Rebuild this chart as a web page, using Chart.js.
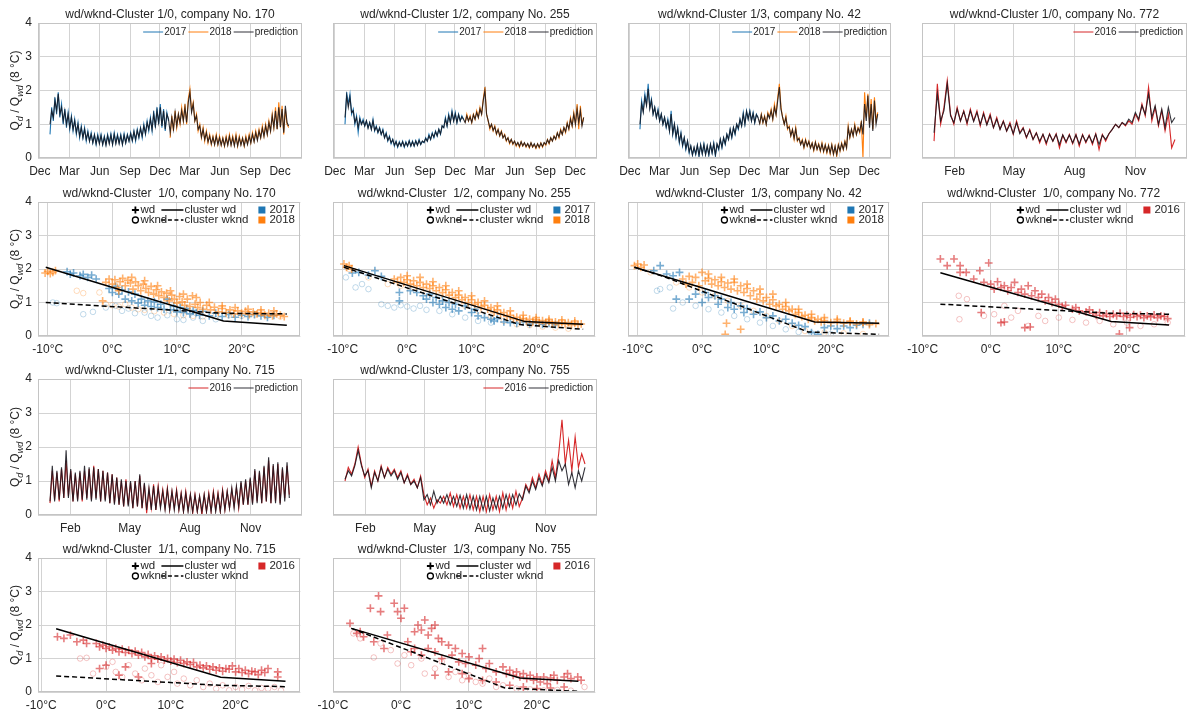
<!DOCTYPE html>
<html>
<head>
<meta charset="utf-8">
<script src="https://cdn.jsdelivr.net/npm/chart.js@4.4.1/dist/chart.umd.min.js"></script>
<style>
  body { margin: 0; background: #fff; width: 1190px; height: 713px; overflow: hidden; position: relative; }
  canvas { position: absolute; }
</style>
</head>
<body>
<script>
// ---------- axes ----------
const TS2_TICKS = [-31, 59, 151, 243, 334, 424, 516, 608, 699];
const TS2_LABELS = ['Dec', 'Mar', 'Jun', 'Sep', 'Dec', 'Mar', 'Jun', 'Sep', 'Dec'];
const TS1_TICKS = [31, 121, 213, 305];
const TS1_LABELS = ['Feb', 'May', 'Aug', 'Nov'];
const TEMP_TICKS = [-10, 0, 10, 20];
const TEMP_LABELS = ['-10°C', '0°C', '10°C', '20°C'];
const Y_LABEL = [['Q', ''], ['d', 'sub'], [' / Q', ''], ['wd', 'sub'], [' (8 °C)', '']];

// ---------- company 170 (2017/2018, every 5 days) ----------
const a2017 = [0.7,1.5,1.1,1.8,1.3,1.95, 1.2,1.6,1.0,1.45,0.9,1.35, 0.85,1.25,0.8,1.15,0.7,1.05, 0.6,0.95,0.6,0.9,0.5,0.8,
  0.5,0.75,0.45,0.7,0.4,0.7, 0.45,0.7,0.4,0.65,0.4,0.7, 0.45,0.72,0.4,0.75,0.45,0.7, 0.45,0.7,0.4,0.72,0.45,0.7,
  0.5,0.75,0.5,0.8,0.5,0.85, 0.6,0.9,0.6,1.0,0.7,1.1, 0.8,1.2,0.8,1.4,0.9,1.5, 1.0,1.6,0.9,1.45,0.8,1.35,1.1];
const a2018 = [0.6,1.25,0.8,1.4,0.9,1.3, 1.0,1.5,1.1,1.6,1.0,1.75, 2.05,1.4,1.65,1.1,1.3,0.8, 1.0,0.6,0.9,0.5,0.8,0.45,
  0.7,0.4,0.65,0.4,0.7,0.4, 0.65,0.38,0.6,0.35,0.65,0.4, 0.7,0.4,0.65,0.38,0.7,0.35, 0.65,0.4,0.6,0.35,0.65,0.42,
  0.7,0.45,0.75,0.5,0.8,0.55, 0.85,0.6,0.95,0.65,1.0,0.7, 1.1,0.8,1.3,0.9,1.5,0.85, 1.65,0.9,1.55,0.7,1.45,1.0,0.9];
const aPred = [1.0,1.4,1.2,1.7,1.4,1.9, 1.3,1.5,1.1,1.4,1.0,1.3, 0.9,1.2,0.85,1.1,0.75,1.0, 0.65,0.9,0.6,0.85,0.55,0.75,
  0.5,0.7,0.45,0.68,0.42,0.65, 0.42,0.66,0.4,0.62,0.38,0.66, 0.42,0.68,0.4,0.7,0.42,0.66, 0.42,0.66,0.4,0.68,0.45,0.68,
  0.5,0.72,0.52,0.78,0.55,0.82, 0.62,0.88,0.65,0.95,0.72,1.05, 0.85,1.15,0.85,1.3,0.95,1.4, 1.05,1.5,0.95,1.4,0.85,1.3,1.15,
  0.75,1.2,0.85,1.35,0.95,1.3, 1.05,1.4,1.1,1.5,1.05,1.65, 1.95,1.35,1.6,1.1,1.25,0.85, 0.95,0.62,0.85,0.55,0.75,0.48,
  0.65,0.42,0.62,0.4,0.65,0.4, 0.6,0.38,0.58,0.36,0.6,0.38, 0.64,0.38,0.6,0.36,0.64,0.36, 0.6,0.38,0.58,0.36,0.6,0.4,
  0.65,0.45,0.7,0.48,0.75,0.52, 0.8,0.6,0.88,0.64,0.95,0.7, 1.05,0.8,1.25,0.9,1.4,0.85, 1.5,0.92,1.45,0.75,1.55,1.05,0.95];

// ---------- company 255 ----------
const b2017 = [1.0,1.95,1.6,1.9,1.3,1.45, 1.0,1.25,0.75,1.2,1.0,1.15, 0.95,1.1,0.9,1.05,0.85,1.15, 0.8,0.95,0.75,0.9,0.7,0.85,
  0.6,0.75,0.5,0.65,0.42,0.55, 0.35,0.5,0.32,0.48,0.35,0.5, 0.32,0.48,0.35,0.52,0.35,0.5, 0.35,0.52,0.38,0.55,0.4,0.5,
  0.45,0.6,0.5,0.7,0.55,0.75, 0.6,0.8,0.65,0.85,0.7,0.95, 0.9,1.2,0.95,1.3,1.05,1.4, 1.1,1.35,1.05,1.3,1.1,1.25,1.15];
const b2018 = [1.05,1.3,1.1,1.25,1.05,1.3, 1.15,1.4,1.2,1.5,1.3,1.75, 2.1,1.3,1.1,0.85,1.0,0.8, 0.95,0.7,0.85,0.65,0.8,0.6,
  0.7,0.5,0.6,0.42,0.55,0.4, 0.5,0.35,0.45,0.32,0.48,0.35, 0.45,0.32,0.42,0.3,0.45,0.32, 0.4,0.28,0.42,0.3,0.45,0.32,
  0.45,0.38,0.55,0.42,0.6,0.5, 0.65,0.55,0.75,0.6,0.85,0.7, 0.9,0.75,1.05,0.85,1.2,0.95, 1.35,1.0,1.6,0.85,1.55,1.0,1.2];
const bPred = [1.2,1.85,1.5,1.8,1.35,1.4, 1.05,1.2,0.9,1.15,1.0,1.1, 0.95,1.1,0.88,1.05,0.85,1.1, 0.82,0.92,0.76,0.88,0.7,0.82,
  0.6,0.72,0.52,0.62,0.45,0.55, 0.38,0.48,0.34,0.46,0.36,0.48, 0.34,0.46,0.36,0.5,0.36,0.48, 0.36,0.5,0.38,0.52,0.4,0.5,
  0.46,0.58,0.5,0.66,0.55,0.72, 0.62,0.78,0.66,0.85,0.72,0.95, 0.9,1.15,0.95,1.25,1.05,1.35, 1.1,1.3,1.05,1.28,1.1,1.22,1.15,
  1.05,1.25,1.1,1.22,1.05,1.28, 1.15,1.35,1.2,1.45,1.3,1.7, 2.0,1.3,1.1,0.9,1.0,0.82, 0.92,0.72,0.84,0.66,0.78,0.6,
  0.68,0.52,0.6,0.45,0.55,0.42, 0.5,0.38,0.46,0.35,0.48,0.36, 0.45,0.34,0.43,0.32,0.45,0.33, 0.42,0.3,0.42,0.32,0.44,0.34,
  0.46,0.4,0.54,0.44,0.6,0.5, 0.64,0.56,0.74,0.62,0.82,0.7, 0.9,0.78,1.02,0.86,1.15,0.95, 1.3,1.0,1.45,1.05,1.4,0.95,1.2];

// ---------- company 42 ----------
const c2017 = [0.85,1.7,1.4,1.9,1.6,2.2, 1.5,1.75,1.3,1.5,1.2,1.45, 1.1,1.3,1.0,1.2,0.9,1.15, 0.8,1.4,0.7,1.0,0.6,0.9,
  0.45,0.75,0.35,0.6,0.25,0.5, 0.15,0.35,0.08,0.3,0.1,0.38, 0.05,0.4,0.12,0.42,0.1,0.35, 0.08,0.4,0.15,0.45,0.05,0.4,
  0.25,0.55,0.3,0.6,0.4,0.7, 0.55,0.85,0.6,0.9,0.7,1.0, 0.85,1.15,0.95,1.35,1.0,1.4, 1.15,1.4,1.1,1.35,1.05,1.3,1.2];
const c2018 = [1.0,1.3,1.05,1.25,1.0,1.35, 1.2,1.45,1.15,1.6,1.3,1.8, 2.2,1.5,1.2,1.0,1.25,0.85, 0.95,0.65,0.85,0.55,0.9,0.5,
  0.6,0.4,0.55,0.3,0.55,0.35, 0.5,0.3,0.45,0.22,0.48,0.25, 0.42,0.2,0.45,0.18,0.4,0.15, 0.38,0.12,0.4,0.1,0.35,0.05,
  0.4,0.2,0.45,0.25,0.5,0.3, 0.95,0.6,0.85,0.65,1.0,0.7, 0.9,0.75,1.1,0.0,1.95,1.2, 1.9,1.0,1.75,0.85,1.8,1.1,1.35];
const cPred = [1.0,1.6,1.35,1.8,1.55,2.05, 1.45,1.7,1.3,1.5,1.2,1.4, 1.1,1.3,1.0,1.2,0.92,1.1, 0.8,1.3,0.72,1.0,0.62,0.88,
  0.48,0.72,0.38,0.6,0.28,0.5, 0.18,0.36,0.1,0.32,0.12,0.38, 0.08,0.38,0.12,0.4,0.1,0.36, 0.1,0.4,0.15,0.42,0.1,0.42,
  0.28,0.55,0.32,0.6,0.42,0.7, 0.55,0.85,0.62,0.9,0.72,1.0, 0.88,1.15,0.95,1.3,1.0,1.38, 1.15,1.38,1.1,1.32,1.05,1.28,1.2,
  1.02,1.28,1.05,1.22,1.0,1.3, 1.18,1.4,1.15,1.5,1.28,1.7, 2.1,1.45,1.2,1.0,1.2,0.88, 0.92,0.66,0.84,0.58,0.86,0.52,
  0.58,0.4,0.52,0.32,0.52,0.36, 0.48,0.3,0.44,0.24,0.46,0.26, 0.4,0.22,0.42,0.2,0.38,0.18, 0.36,0.15,0.38,0.12,0.34,0.1,
  0.38,0.22,0.42,0.26,0.48,0.3, 0.9,0.62,0.85,0.66,0.95,0.7, 0.88,0.78,1.05,0.7,1.6,1.1, 1.85,0.9,1.6,0.8,1.7,1.0,1.3];

// ---------- company 772 (2016, every 5 days) ----------
const d2016 = [0.5,2.2,1.0,1.5,2.3,1.3, 1.0,1.5,1.1,1.4,1.0,1.45, 1.1,1.4,0.95,1.35,1.0,1.3, 0.9,1.2,0.85,1.1,0.8,1.05,
  0.7,1.1,0.75,0.9,0.6,0.85, 0.55,0.75,0.45,0.7,0.4,0.72, 0.5,0.72,0.3,0.68,0.45,0.7, 0.42,0.7,0.35,0.7,0.45,0.68,
  0.4,0.72,0.25,0.7,0.5,0.72, 0.85,1.0,0.9,1.05,0.95,1.1, 1.0,1.3,1.1,1.6,1.25,2.1, 1.1,1.5,0.95,1.4,0.8,1.3, 0.3,0.55];
const dPred = [0.75,1.9,1.1,1.4,2.2,1.25, 1.05,1.45,1.1,1.38,1.05,1.4, 1.08,1.35,1.0,1.3,0.98,1.25, 0.9,1.15,0.85,1.08,0.8,1.0,
  0.72,1.05,0.72,0.88,0.62,0.82, 0.55,0.74,0.5,0.7,0.45,0.7, 0.5,0.7,0.4,0.68,0.48,0.68, 0.45,0.68,0.42,0.68,0.48,0.66,
  0.45,0.7,0.4,0.68,0.55,0.72, 0.85,1.0,0.9,1.05,0.98,1.15, 1.05,1.35,1.15,1.55,1.3,1.9, 1.2,1.55,1.0,1.45,0.9,1.5, 1.05,1.2];

// ---------- company 715 (2016, twice a week) ----------
const e2016 = [0.35,1.3, 0.45,1.25, 0.4,1.35, 0.5,1.6, 0.55,1.3, 0.4,1.2, 0.45,1.25, 0.4,1.3, 0.5,1.35, 0.45,1.45,
  0.5,1.35, 0.4,1.3, 0.45,1.25, 0.35,1.2, 0.35,1.1, 0.3,1.0, 0.25,1.05, 0.3,0.95, 0.2,1.0, 0.25,1.15,
  0.2,0.9, 0.05,0.75, 0.2,0.9, 0.15,0.85, 0.25,0.75, 0.2,0.8, 0.15,0.7, 0.2,0.75, 0.15,0.65, 0.1,0.7,
  0.15,0.6, 0.05,0.6, 0.1,0.55, 0.0,0.6, 0.1,0.65, 0.1,0.7, 0.15,0.65, 0.1,0.75, 0.15,0.7, 0.2,0.75,
  0.25,0.8, 0.2,0.95, 0.3,1.0, 0.3,1.05, 0.35,1.3, 0.4,1.25, 0.35,1.4, 0.4,1.6, 0.35,1.45, 0.4,1.5,
  0.35,1.35, 0.5,1.45, 0.6];
const ePred = [0.4,1.45, 0.4,1.3, 0.45,1.4, 0.5,1.9, 0.5,1.35, 0.4,1.25, 0.4,1.3, 0.45,1.45, 0.45,1.4, 0.4,1.4,
  0.45,1.35, 0.4,1.3, 0.4,1.25, 0.35,1.2, 0.3,1.1, 0.3,1.05, 0.25,1.0, 0.25,1.0, 0.2,1.0, 0.25,1.2,
  0.2,0.95, 0.15,0.8, 0.15,0.85, 0.15,0.8, 0.2,0.7, 0.15,0.75, 0.15,0.7, 0.15,0.7, 0.15,0.62, 0.1,0.65,
  0.1,0.6, 0.1,0.58, 0.1,0.55, 0.1,0.6, 0.1,0.6, 0.1,0.65, 0.1,0.62, 0.1,0.7, 0.15,0.7, 0.2,0.8,
  0.2,0.85, 0.25,1.0, 0.3,1.05, 0.3,1.1, 0.3,1.35, 0.35,1.3, 0.35,1.45, 0.4,1.7, 0.35,1.5, 0.35,1.55,
  0.3,1.4, 0.4,1.55, 0.5];

// ---------- company 755 (2016, every 5 days) ----------
const f2016 = [1.0,1.4,1.2,1.5,2.0,1.5, 1.1,1.35,0.85,1.3,1.0,1.45, 1.1,1.4,1.2,1.35,1.1,1.3, 0.95,1.2,0.9,1.05,0.8,1.15,
  0.6,0.3,0.5,0.2,0.45,0.35, 0.55,0.3,0.65,0.25,0.6,0.2, 0.55,0.2,0.6,0.15,0.55,0.1, 0.55,0.1,0.6,0.15,0.55,0.1,
  0.65,0.15,0.6,0.2,0.7,0.25, 0.5,0.9,0.7,1.1,0.8,1.2, 0.9,1.3,1.0,1.6,1.1,1.8, 2.8,1.5,2.2,1.3,2.3,1.4, 1.8,1.5];
const fPred = [1.05,1.3,1.15,1.45,1.9,1.45, 1.15,1.3,0.8,1.25,1.0,1.4, 1.1,1.35,1.15,1.3,1.05,1.25, 0.95,1.15,0.9,1.0,0.8,1.1,
  0.45,0.6,0.3,0.7,0.35,0.55, 0.35,0.6,0.3,0.55,0.25,0.58, 0.2,0.6,0.18,0.55,0.15,0.55, 0.15,0.55,0.12,0.5,0.18,0.55,
  0.2,0.6,0.25,0.6,0.3,0.62, 0.45,0.85,0.65,1.0,0.75,1.1, 0.85,1.2,0.95,1.4,1.0,1.6, 1.3,1.5,0.9,1.25,0.8,1.3, 1.0,1.4];

// ---------- daily ratio vs. temperature: [°C, ratio] ----------
const gWd17 = [[-7,1.92],[-6.5,1.85],[-6,1.88],[-5,1.8],[-4.5,1.84],[-3.8,1.75],[-3.2,1.82],[-2.5,1.7],[-0.5,1.42],[0,1.3],[0.5,1.48],[1,1.25],
  [1.5,1.38],[2,1.1],[2.5,1.32],[3,1.05],[3.5,1.25],[4,0.98],[4.5,1.1],[5,0.92],[5.5,1.05],[6,0.88],[6.5,1.02],[7,0.85],[7.5,0.95],[8,0.8],
  [8.5,1.1],[9,0.78],[9.5,0.9],[10,0.72],[10.5,0.85],[11,0.7],[11.5,0.82],[12,0.66],[12.5,0.76],[13,0.7],[13.5,0.62],[14,0.74],[15,0.6],
  [16,0.68],[17,0.58],[18,0.64],[19,0.56],[20,0.62],[21,0.58],[22,0.64],[23,0.6],[24,0.56],[25,0.62]];
const gWd18 = [[-10.4,1.88],[-10,1.93],[-9.6,1.86],[-9.2,1.9],[-8.8,1.95],[-1.5,1.05],[-1,1.6],[-0.5,1.7],[0,1.55],[0.4,1.68],[0.8,1.45],
  [1.2,1.62],[1.6,1.72],[2,1.5],[2.4,1.66],[2.8,1.58],[3.2,1.4],[3.6,1.62],[4,1.5],[4.4,1.35],[4.8,1.55],[5.2,1.42],[5.6,1.3],[6,1.48],
  [6.4,1.25],[6.8,1.38],[7.2,1.2],[7.6,1.32],[8,1.15],[8.4,1.28],[8.8,1.05],[9.2,1.22],[9.6,1.1],[10,0.98],[10.4,1.18],[10.8,1.02],
  [11.2,0.92],[11.6,1.1],[12,0.88],[12.4,1.2],[12.8,0.95],[13.2,0.85],[13.6,1.0],[14,0.8],[14.6,0.92],[15.2,0.78],[15.8,0.86],[16.4,0.72],
  [17,0.82],[17.6,0.7],[18.2,0.78],[18.8,0.66],[19.4,0.75],[20,0.68],[20.6,0.74],[21.2,0.64],[21.8,0.72],[22.4,0.66],[23,0.7],[23.6,0.62],
  [24.2,0.68],[24.8,0.6],[25.4,0.66],[26,0.62],[26.6,0.58],
  [1,1.35],[3,1.75],[5,1.65],[7,1.5],[9,1.35],[11,1.25],[13,1.15],[15,1.0],[17,0.9],[19,0.85],[21,0.8],[23,0.78],[25,0.75]];
const gWk17 = [[-9.2,1.0],[-8.6,0.98],[-4.5,0.65],[-3,0.72],[-1,0.85],[0.5,0.9],[1.5,0.75],[2.5,0.82],[3.5,0.68],[5,0.7],[6,0.6],[7,0.55],
  [8.5,0.62],[10,0.5],[11,0.48],[12.5,0.55],[14,0.45],[16,0.5]];
const gWk18 = [[-5.5,1.35],[-4.5,1.28],[-2,1.3],[-1,0.95],[0,0.92],[1,0.88],[2,0.95],[3,0.85],[4,0.8],[5,0.78],[6.5,0.74],[8,0.7],[9.5,0.66],
  [11,0.62],[12.5,0.6],[14,0.58],[16,0.6],[18,0.62],[20,0.6],[22,0.64],[24,0.6],[26,0.58]];
const gClWd = [[-10.3,2.05],[17.2,0.45],[27,0.32]];
const gClWk = [[-10.3,1.0],[17,0.68],[27,0.66]];

const hWd17 = [[-8.5,1.88],[-7.5,1.9],[-6,1.82],[-5,1.95],[-4,1.78],[-1.2,1.3],[-1.2,1.05],[0.5,1.35],[1.5,1.3],[2.5,1.2],[3,1.1],[3.5,1.25],
  [4,1.0],[4.5,1.15],[5,0.95],[5.5,1.05],[6,0.85],[6.5,1.0],[7,0.8],[7.5,0.95],[8,0.75],[9,0.9],[10,0.7],[10.5,0.8],[11,0.6],[12,0.55],
  [13,0.5],[13.5,0.45],[14,0.52],[15,0.42],[16,0.4],[17,0.38],[18,0.42],[19,0.36],[20,0.4],[21,0.35],[22,0.38],[23,0.34]];
const hWd18 = [[-9.8,2.15],[-9.4,2.05],[-9,2.1],[-8.6,2.0],[-2,1.7],[-1.5,1.62],[-1,1.75],[-0.5,1.6],[0,1.68],[0.5,1.55],[1,1.65],[1.5,1.5],
  [2,1.6],[2.5,1.45],[3,1.55],[3.5,1.42],[4,1.5],[4.5,1.35],[5,1.45],[5.5,1.3],[6,1.38],[6.5,1.22],[7,1.3],[7.5,1.15],[8,1.22],[8.5,1.08],
  [9,1.15],[9.5,1.0],[10,1.08],[10.5,0.95],[11,1.0],[11.5,0.88],[12,0.92],[12.5,0.8],[13,0.85],[13.5,0.72],[14,0.78],[14.5,0.65],[15,0.7],
  [15.5,0.58],[16,0.62],[16.5,0.52],[17,0.56],[17.5,0.48],[18,0.52],[18.5,0.45],[19,0.5],[19.5,0.42],[20,0.48],[20.5,0.4],[21,0.46],
  [21.5,0.4],[22,0.44],[22.5,0.38],[23,0.42],[23.5,0.36],[24,0.4],[24.5,0.36],[25,0.4],[25.5,0.34],[26,0.38],[26.5,0.34],[27,0.36],
  [0,1.8],[2,1.75],[4,1.62],[6,1.5],[8,1.35],[10,1.2],[12,1.05],[14,0.9],[16,0.75],[18,0.62],[20,0.55],[22,0.5],[24,0.48],[26,0.45]];
const hWk17 = [[-9.5,1.75],[-8,1.45],[-7,1.55],[-6,1.4],[-4,0.95],[-3,0.9],[-2,0.85],[-1,0.92],[0,0.88],[1,0.82],[2,0.9],[3,0.78],[5,0.75],
  [7,0.65],[9,0.55],[11,0.45],[13,0.4]];
const hWk18 = [[-9,2.0],[-6,1.75],[-3,1.55],[-1,1.5],[1,1.45],[3,1.3],[5,1.2],[7,1.05],[9,0.9],[11,0.75],[13,0.6],[15,0.45],[17,0.35],
  [19,0.32],[21,0.28],[23,0.25],[25,0.22]];
const hClWd = [[-9.8,2.1],[18.3,0.43],[27.3,0.35]];
const hClWk = [[-9.8,2.05],[17.5,0.34],[27.3,0.2]];

const iWd17 = [[-7.5,1.95],[-6.5,2.1],[-5.5,1.85],[-4.5,1.8],[-3.5,1.9],[-4,1.1],[-2,1.1],[-1,1.25],[0,1.0],[0.5,1.3],[1,1.15],[2,1.2],
  [2.5,0.95],[3,1.1],[4,0.85],[4.5,1.0],[5,0.8],[6,0.9],[6.5,0.7],[7,0.82],[8,0.65],[9,0.72],[10,0.55],[11,0.6],[12,0.45],[13,0.5],
  [14,0.38],[15,0.32],[16,0.28],[17,0.1],[18,0.05],[19,0.25],[20,0.3],[21,0.22],[22,0.3],[23,0.25],[24,0.32],[25,0.35],[26,0.38]];
const iWd18 = [[-10.5,2.1],[-10,2.15],[-9.5,2.05],[-9,2.12],[-3,1.7],[-2.5,1.55],[-2,1.78],[-1.5,1.6],[-1,1.75],[-0.5,1.5],[0,1.9],
  [0.5,1.65],[1,1.72],[1.5,1.55],[2,1.68],[2.5,1.5],[3,1.62],[3.5,1.45],[4,1.58],[4.5,1.4],[5,1.6],[5.5,1.35],[6,1.5],[6.5,1.3],[7,1.42],
  [7.5,1.2],[8,1.35],[8.5,1.1],[9,1.25],[9.5,1.05],[10,1.15],[10.5,0.95],[11,1.08],[11.5,0.9],[12,0.95],[12.5,0.8],[13,0.88],[13.5,0.75],
  [14,0.8],[14.5,0.65],[15,0.7],[15.5,0.58],[16,0.62],[16.5,0.5],[17,0.55],[17.5,0.45],[18,0.5],[18.5,0.42],[19,0.46],[20,0.4],[21,0.44],
  [22,0.38],[23,0.42],[24,0.36],[25,0.4],[26,0.34],[27,0.37],[3.8,0.38],[3.6,0.05],[6,0.2],
  [1,1.85],[3,1.75],[5,1.7],[7,1.55],[9,1.4],[11,1.25],[13,1.0],[15,0.8],[17,0.65],[19,0.55],[21,0.5],[23,0.45],[25,0.42]];
const iWk17 = [[-7,1.35],[-6.5,1.4],[-5,1.45],[-4.5,0.82],[-3,1.0],[-1,0.9],[1,0.8],[3,0.7],[5,0.6],[7,0.5],[9,0.4],[11,0.3],[13,0.2],
  [15,0.12],[17,0.08],[20,0.06]];
const iWk18 = [[-8,1.9],[-4,1.6],[-2,1.45],[0,1.3],[2,1.2],[4,1.05],[6,0.9],[8,0.75],[10,0.6],[12,0.45],[14,0.3],[16,0.15],[19,0.1],
  [22,0.08],[25,0.06]];
const iClWd = [[-10.5,2.05],[17.5,0.42],[27.5,0.38]];
const iClWk = [[-10.5,2.05],[-6,1.78],[16.5,0.12],[27.5,0.05]];

const jWd16 = [[-7.4,2.3],[-6.4,2.1],[-5.4,2.3],[-4.5,2.1],[-4.5,1.9],[-3.6,1.9],[-2.5,1.7],[-1.6,1.95],[-0.3,2.18],[-1,1.6],[0,1.55],
  [0.5,1.4],[1,1.62],[1.5,1.45],[2,1.5],[2.5,1.35],[3,1.45],[3.5,1.6],[4,1.3],[4.5,1.4],[5,1.25],[5.5,1.5],[6,1.2],[6.5,1.35],[7,1.15],
  [7.5,1.25],[8,1.05],[8.5,1.15],[9,1.0],[9.5,1.1],[10,0.95],[10.5,0.88],[11,0.92],[12,0.8],[12.5,0.85],[13,0.75],[14,0.72],[14.5,0.78],
  [15,0.68],[15.5,0.62],[16,0.7],[16.5,0.6],[17,0.66],[17.5,0.58],[18,0.65],[18.5,0.6],[19,0.68],[19.5,0.58],[20,0.62],[20.5,0.56],
  [21,0.64],[21.5,0.58],[22,0.62],[22.5,0.55],[23,0.6],[23.5,0.57],[24,0.63],[24.5,0.55],[25,0.6],[25.5,0.58],[26,0.52],[-1.4,0.7],
  [1.5,0.4],[2,0.42],[5,0.25],[5.8,0.27],[18.9,0.06],[20.4,0.25]];
const jWk16 = [[-4.7,1.2],[-3.5,1.1],[-4.6,0.5],[-1,0.6],[0.5,0.65],[2,0.9],[3,0.55],[4,0.75],[5.5,0.3],[7,0.6],[8,0.45],[10,0.55],
  [12,0.48],[14,0.4],[16,0.45],[18,0.35],[20,0.4],[22,0.3],[24,0.35],[26,0.4]];
const jClWd = [[-7.4,1.89],[17.7,0.43],[26.2,0.33]];
const jClWk = [[-7.4,0.95],[17.5,0.68],[26.2,0.65]];

const kWd16 = [[-7.5,1.65],[-6.5,1.6],[-5.5,1.7],[-4.5,1.5],[-3.5,1.55],[-3,1.45],[-1.5,1.45],[-1,1.35],[-0.5,1.4],[0,1.3],[0.5,1.35],
  [1,1.25],[1.5,1.3],[2,1.2],[2.5,1.28],[3,1.18],[3.5,1.25],[4,1.15],[4.5,1.22],[5,1.1],[5.5,1.18],[6,1.05],[6.5,1.12],[7,1.0],[7.5,1.08],
  [8,0.98],[8.5,1.05],[9,0.95],[9.5,1.0],[10,0.92],[10.5,0.98],[11,0.88],[11.5,0.95],[12,0.85],[12.5,0.9],[13,0.82],[13.5,0.88],[14,0.75],
  [14.5,0.8],[15,0.72],[15.5,0.78],[16,0.68],[16.5,0.75],[17,0.65],[17.5,0.72],[18,0.62],[18.5,0.7],[19,0.68],[19.5,0.78],[20,0.6],
  [20.5,0.7],[21,0.58],[21.5,0.65],[22,0.55],[22.5,0.62],[23,0.6],[23.5,0.52],[24,0.65],[24.5,0.58],[25,0.7],[26.5,0.6],[26.5,0.45],
  [-1,0.7],[0,0.8],[2,0.5],[5,0.45],[7,0.85],[3,0.75]];
const kWk16 = [[-4,1.0],[-3,1.02],[-2,0.55],[0,0.75],[1,0.9],[1.5,0.6],[2.5,0.45],[3.5,0.8],[4.5,0.55],[5.5,0.35],[6,0.7],[7,0.5],[8,0.3],
  [8.5,0.8],[9.5,0.45],[10.5,0.6],[11,0.25],[12,0.4],[13,0.2],[14,0.35],[15,0.15],[16,0.25],[17,0.1],[18,0.2],[19,0.05],[20,0.15],
  [21,0.08],[22,0.18],[23,0.05],[24,0.12],[25,0.1],[26,0.15],[27,0.05]];
const kClWd = [[-7.7,1.89],[17.7,0.44],[27.7,0.32]];
const kClWk = [[-7.7,0.48],[17.5,0.2],[27.7,0.16]];

const lWd16 = [[-7.5,2.05],[-4.5,2.5],[-3.3,2.87],[-3,2.4],[-1,2.65],[-0.5,2.4],[0,2.2],[0.5,2.5],[-2,1.7],[-4,1.5],[-6,1.8],[1,1.5],
  [2,1.8],[2.5,2.0],[3,1.85],[3.5,2.15],[4,1.7],[4.5,1.9],[5,2.0],[5.5,1.6],[6,1.5],[1.5,1.2],[2,1.3],[3,1.1],[4,1.3],[5,1.2],[6,1.0],
  [7,1.4],[7.5,1.1],[8,1.3],[8.5,0.9],[9,1.15],[9.5,0.85],[10,1.05],[11,0.8],[11.5,1.0],[12,1.3],[12.5,0.7],[13,0.85],[14,0.6],[15,0.75],
  [15.5,0.55],[16,0.65],[16.5,0.5],[17,0.6],[17.5,0.45],[18,0.55],[18.5,0.4],[19,0.5],[19.5,0.35],[20,0.45],[20.5,0.3],[21,0.45],
  [21.5,0.25],[22,0.42],[22.5,0.5],[23,0.35],[24,0.45],[24.5,0.55],[25,0.4],[26,0.45],[26.5,0.35],[5,0.5],[7,0.6],[9,0.55],[10,0.4],
  [12,0.35],[14,0.3],[16,0.2],[18,0.15],[20,0.1],[22,0.12],[24,0.15],[-5.5,1.65],[-6.5,1.75],[-2.5,1.3]];
const lWk16 = [[-7,1.75],[-6,1.6],[-4,1.03],[-3,1.45],[-1.5,1.25],[-0.5,0.85],[0.5,1.1],[1.5,0.8],[3,1.0],[3.5,0.55],[5,0.7],[6,0.9],
  [7,0.45],[8,0.6],[9,0.35],[10,0.5],[11,0.3],[12,0.25],[13,0.4],[14,0.15],[15,0.2],[17,0.1],[19,0.08],[21,0.05],[23,0.06],[25,0.04],[27,0.15]];
const lClWd = [[-7.3,1.9],[17.5,0.42],[26.1,0.32]];
const lClWk = [[-7.3,1.9],[15.3,0.12],[26.1,0.02]];

// ---------- layout ----------
const FONT = '"Liberation Sans", Arial, Helvetica, sans-serif';
const TEXT = '#262626';
const GRID = '#d3d3d3';
const COLS = [[38, 302], [333, 597], [628, 891], [922, 1187]];
const ROWS = [[23, 158], [202, 336], [379, 515], [558, 692]];
const AX_W = 38, TITLE_H = 22, XAX_H = 21, PAD_R = 4;

const BLUE = '#1f77b4', ORANGE = '#ff7f0e', RED = '#d62728', PRED = 'rgba(22,22,30,0.88)';
const rgba = (hex, a) => {
  const n = parseInt(hex.slice(1), 16);
  return `rgba(${n >> 16},${(n >> 8) & 255},${n & 255},${a})`;
};

const days = (vals, step, offset) => vals.map((v, i) => ({ x: offset + i * step, y: v }));
const xy = pts => pts.map(p => ({ x: p[0], y: p[1] }));

function trace(data, color, order) {
  return { data, showLine: true, borderColor: color, borderWidth: 1.1, pointRadius: 0, order };
}
function crosses(pts, color, order) {
  return { data: xy(pts), pointStyle: 'cross', pointRadius: 3.9, pointBorderWidth: 1.6,
    pointBorderColor: rgba(color, 0.6), pointBackgroundColor: rgba(color, 0.6), order };
}
function rings(pts, color) {
  return { data: xy(pts), pointStyle: 'circle', pointRadius: 2.8, pointBorderWidth: 0.8,
    pointBorderColor: rgba(color, 0.35), pointBackgroundColor: 'rgba(0,0,0,0)', order: 6 };
}
function cluster(pts, dashed) {
  return { data: xy(pts), showLine: true, borderColor: '#000', borderWidth: 1.5, pointRadius: 0,
    borderDash: dashed ? [5, 3] : [], order: 0 };
}

// frame around the plot area
const framePlugin = {
  id: 'frame',
  afterDatasetsDraw(chart) {
    const { ctx, chartArea: a } = chart;
    ctx.save();
    ctx.strokeStyle = '#c4c4c4';
    ctx.lineWidth = 1;
    ctx.strokeRect(Math.round(a.left) + 0.5, Math.round(a.top) + 0.5,
      Math.round(a.right - a.left) - 1, Math.round(a.bottom - a.top) - 1);
    ctx.restore();
  }
};

// legends inside the top right corner
const legendPlugin = {
  id: 'panelLegend',
  afterDraw(chart, args, o) {
    if (!o.mode) return;
    const { ctx, chartArea: a } = chart;
    ctx.save();
    ctx.fillStyle = TEXT;
    ctx.textBaseline = 'middle';
    if (o.mode === 'ts') {
      ctx.font = '10px ' + FONT;
      let cur = a.right - 4;
      const y = a.top + 9;
      for (let i = o.items.length - 1; i >= 0; i--) {
        const it = o.items[i];
        const tx = cur - ctx.measureText(it.text).width;
        ctx.fillStyle = TEXT;
        ctx.fillText(it.text, tx, y);
        ctx.strokeStyle = it.color;
        ctx.lineWidth = 1;
        ctx.beginPath(); ctx.moveTo(tx - 21, y); ctx.lineTo(tx - 1, y); ctx.stroke();
        cur = tx - 23;
      }
    } else {
      ctx.font = '11.5px ' + FONT;
      const R = a.right, y1 = a.top + 8, y2 = a.top + 18;
      ctx.strokeStyle = '#000';
      ctx.lineWidth = 1.8;
      ctx.beginPath();
      ctx.moveTo(R - 168.5, y1); ctx.lineTo(R - 161.5, y1);
      ctx.moveTo(R - 165, y1 - 3.5); ctx.lineTo(R - 165, y1 + 3.5);
      ctx.stroke();
      ctx.lineWidth = 1.3;
      ctx.beginPath(); ctx.arc(R - 165, y2, 3, 0, Math.PI * 2); ctx.stroke();
      ctx.fillText(o.labels[0], R - 160, y1);
      ctx.fillText(o.labels[1], R - 160, y2);
      ctx.lineWidth = 1.5;
      ctx.beginPath(); ctx.moveTo(R - 139, y1); ctx.lineTo(R - 117, y1); ctx.stroke();
      ctx.setLineDash([4, 2.5]);
      ctx.beginPath(); ctx.moveTo(R - 139, y2); ctx.lineTo(R - 117, y2); ctx.stroke();
      ctx.setLineDash([]);
      ctx.fillText(o.labels[2], R - 116, y1);
      ctx.fillText(o.labels[3], R - 116, y2);
      o.years.forEach((yr, i) => {
        const y = i ? y2 : y1;
        ctx.fillStyle = yr.color;
        ctx.fillRect(R - 42, y - 3.5, 7, 7);
        ctx.fillStyle = TEXT;
        ctx.fillText(yr.text, R - 31, y);
      });
    }
    ctx.restore();
  }
};

// rotated y title with subscripts
const yLabelPlugin = {
  id: 'yLabel',
  afterDraw(chart, args, o) {
    if (!o.show) return;
    const { ctx, chartArea: a } = chart;
    const big = '12px ' + FONT, small = 'italic 9px ' + FONT;
    ctx.save();
    ctx.translate(15, (a.top + a.bottom) / 2);
    ctx.rotate(-Math.PI / 2);
    ctx.fillStyle = TEXT;
    ctx.textBaseline = 'alphabetic';
    let total = 0;
    const widths = Y_LABEL.map(([t, k]) => { ctx.font = k ? small : big; const w = ctx.measureText(t).width; total += w; return w; });
    let x = -total / 2;
    Y_LABEL.forEach(([t, k], i) => {
      ctx.font = k ? small : big;
      ctx.fillText(t, x, k ? 7.5 : 4.3);
      x += widths[i];
    });
    ctx.restore();
  }
};

function panel(col, row, title, xr, ticks, labels, datasets, legend) {
  const [l, r] = COLS[col], [t, b] = ROWS[row];
  const w = r - l + AX_W + PAD_R, h = b - t + TITLE_H + XAX_H;
  const cv = document.createElement('canvas');
  cv.width = w; cv.height = h;
  cv.style.left = (l - AX_W) + 'px';
  cv.style.top = (t - TITLE_H) + 'px';
  cv.style.width = w + 'px'; cv.style.height = h + 'px';
  document.body.appendChild(cv);
  const tickFont = { family: FONT, size: 12 };
  new Chart(cv.getContext('2d'), {
    type: 'scatter',
    data: { datasets },
    options: {
      responsive: false, animation: false, devicePixelRatio: 1, events: [],
      layout: { padding: { left: 0, right: PAD_R, top: 0, bottom: 0 } },
      plugins: {
        legend: { display: false }, tooltip: { enabled: false },
        title: { display: true, text: title, fullSize: false, color: TEXT,
          font: { family: FONT, size: 12, weight: 'normal' }, padding: { top: 6, bottom: 1.6 } },
        panelLegend: legend,
        yLabel: { show: col === 0 }
      },
      scales: {
        x: {
          type: 'linear', min: xr[0], max: xr[1],
          afterBuildTicks: s => { s.ticks = ticks.map(v => ({ value: v })); },
          afterFit: s => { s.height = XAX_H; },
          ticks: { callback: (v, i) => labels[i], autoSkip: false, maxRotation: 0, padding: 6, color: TEXT, font: tickFont },
          grid: { color: GRID, drawTicks: false }, border: { display: false }
        },
        y: {
          min: 0, max: 4,
          afterFit: s => { s.width = AX_W; },
          ticks: { stepSize: 1, display: col === 0, padding: 6, color: TEXT, font: tickFont },
          grid: { color: GRID, drawTicks: false }, border: { display: false }
        }
      }
    },
    plugins: [framePlugin, legendPlugin, yLabelPlugin]
  });
}

const TS2_X = [-36.5, 765.5], TS1_X = [-18.25, 383.25];
const tsLegend2 = { mode: 'ts', items: [{ text: '2017', color: BLUE }, { text: '2018', color: ORANGE }, { text: 'prediction', color: PRED }] };
const tsLegend1 = { mode: 'ts', items: [{ text: '2016', color: RED }, { text: 'prediction', color: PRED }] };
const SC_LABELS = ['wd', 'wknd', 'cluster wd', 'cluster wknd'];
const scLegend2 = { mode: 'sc', labels: SC_LABELS, years: [{ text: '2017', color: BLUE }, { text: '2018', color: ORANGE }] };
const scLegend1 = { mode: 'sc', labels: SC_LABELS, years: [{ text: '2016', color: RED }] };

function ts2(col, title, y17, y18, pred) {
  panel(col, 0, title, TS2_X, TS2_TICKS, TS2_LABELS, [
    trace(days(y17, 5, 0), BLUE, 2),
    trace(days(y18, 5, 365), ORANGE, 2),
    trace(days(pred, 5, 0), PRED, 1)
  ], tsLegend2);
}
function ts1(col, row, title, step, y16, pred) {
  panel(col, row, title, TS1_X, TS1_TICKS, TS1_LABELS, [
    trace(days(y16, step, 0), RED, 2),
    trace(days(pred, step, 0), PRED, 1)
  ], tsLegend1);
}
function sc2(col, title, xr, wd17, wd18, wk17, wk18, clWd, clWk) {
  panel(col, 1, title, xr, TEMP_TICKS, TEMP_LABELS, [
    cluster(clWd, false), cluster(clWk, true),
    crosses(wd18, ORANGE, 3), crosses(wd17, BLUE, 4),
    rings(wk17, BLUE), rings(wk18, ORANGE)
  ], scLegend2);
}
function sc1(col, row, title, xr, wd, wk, clWd, clWk) {
  panel(col, row, title, xr, TEMP_TICKS, TEMP_LABELS, [
    cluster(clWd, false), cluster(clWk, true),
    crosses(wd, RED, 3), rings(wk, RED)
  ], scLegend1);
}

ts2(0, 'wd/wknd-Cluster 1/0, company No. 170', a2017, a2018, aPred);
ts2(1, 'wd/wknd-Cluster 1/2, company No. 255', b2017, b2018, bPred);
ts2(2, 'wd/wknd-Cluster 1/3, company No. 42', c2017, c2018, cPred);
ts1(3, 0, 'wd/wknd-Cluster 1/0, company No. 772', 5, d2016, dPred);

sc2(0, 'wd/wknd-Cluster  1/0, company No. 170', [-11.5, 29.1], gWd17, gWd18, gWk17, gWk18, gClWd, gClWk);
sc2(1, 'wd/wknd-Cluster  1/2, company No. 255', [-11.5, 29.2], hWd17, hWd18, hWk17, hWk18, hClWd, hClWk);
sc2(2, 'wd/wknd-Cluster  1/3, company No. 42', [-11.5, 29.1], iWd17, iWd18, iWk17, iWk18, iClWd, iClWk);
sc1(3, 1, 'wd/wknd-Cluster  1/0, company No. 772', [-10.1, 28.6], jWd16, jWk16, jClWd, jClWk);

ts1(0, 2, 'wd/wknd-Cluster 1/1, company No. 715', 3.5, e2016, ePred);
ts1(1, 2, 'wd/wknd-Cluster 1/3, company No. 755', 5, f2016, fPred);

sc1(0, 3, 'wd/wknd-Cluster  1/1, company No. 715', [-10.5, 30.0], kWd16, kWk16, kClWd, kClWk);
sc1(1, 3, 'wd/wknd-Cluster  1/3, company No. 755', [-10.0, 28.6], lWd16, lWk16, lClWd, lClWk);
</script>
</body>
</html>
